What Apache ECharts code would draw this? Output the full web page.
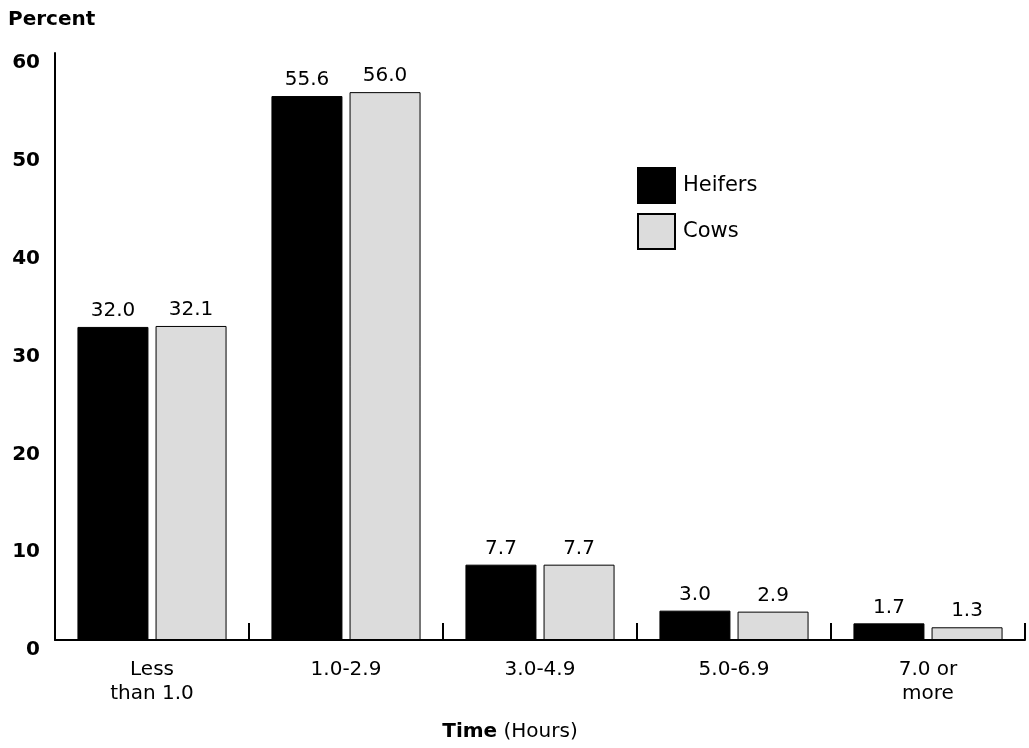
<!DOCTYPE html>
<html>
<head>
<meta charset="utf-8">
<script src="https://cdn.jsdelivr.net/npm/echarts@6/dist/echarts.min.js"></script>
<style>
  html, body { margin: 0; padding: 0; background: #fff; }
  #chart { width: 1029px; height: 748px; }
</style>
</head>
<body>
<div id="chart"></div>
<script>
// Calving duration by time category
const categories = ['Less\nthan 1.0', '1.0-2.9', '3.0-4.9', '5.0-6.9', '7.0 or\nmore'];
const heifers = [32.0, 55.6, 7.7, 3.0, 1.7];
const cows = [32.1, 56.0, 7.7, 2.9, 1.3];
const yTicks = [0, 10, 20, 30, 40, 50, 60];

const FONT = '"DejaVu Sans", "Liberation Sans", Arial, sans-serif';

const chart = echarts.init(document.getElementById('chart'), null, { renderer: 'canvas' });

const labelStyle = {
  show: true,
  position: 'top',
  distance: 6,
  color: '#000',
  fontFamily: FONT,
  fontSize: 20,
  formatter: p => p.value.toFixed(1)
};

chart.setOption({
  animation: false,
  backgroundColor: '#fff',
  title: {
    text: 'Percent',
    left: 3,
    top: 5,
    textStyle: { fontFamily: FONT, fontSize: 20, fontWeight: 'bold', color: '#000' }
  },
  legend: {
    orient: 'vertical',
    left: 632,
    top: 162,
    icon: 'rect',
    itemWidth: 37,
    itemHeight: 35,
    itemGap: 9,
    textStyle: { fontFamily: FONT, fontSize: 21, color: '#000', padding: [0, 0, 0, 3] },
    data: ['Heifers', 'Cows']
  },
  grid: {
    left: 55, right: 4, top: 53, bottom: 108,
    containLabel: false,
    outerBoundsMode: 'none'
  },
  xAxis: {
    type: 'category',
    data: categories,
    boundaryGap: true,
    axisLine: { show: true, lineStyle: { color: '#000', width: 2 } },
    axisTick: {
      show: true, inside: true, interval: 0, length: 17,
      lineStyle: { color: '#000', width: 2 }
    },
    axisLabel: {
      color: '#000', fontFamily: FONT, fontSize: 20, lineHeight: 24, margin: 18
    },
    name: '{b|Time} (Hours)',
    nameLocation: 'middle',
    nameGap: 82,
    nameTextStyle: {
      color: '#000', fontFamily: FONT, fontSize: 20,
      padding: [0, 60, 0, 0],
      rich: { b: { fontFamily: FONT, fontSize: 20, fontWeight: 'bold', color: '#000' } }
    }
  },
  yAxis: {
    type: 'value',
    min: yTicks[0],
    max: yTicks[yTicks.length - 1],
    interval: 10,
    axisLine: { show: true, lineStyle: { color: '#000', width: 2 } },
    axisTick: { show: false },
    splitLine: { show: false },
    axisLabel: {
      color: '#000', fontFamily: FONT, fontSize: 20, fontWeight: 'bold',
      margin: 15, verticalAlign: 'top', lineHeight: 20
    }
  },
  series: [
    {
      name: 'Heifers',
      type: 'bar',
      data: heifers,
      barWidth: 71,
      barGap: '10%',
      itemStyle: { color: '#000', borderColor: '#000', borderWidth: 1 },
      label: labelStyle
    },
    {
      name: 'Cows',
      type: 'bar',
      data: cows,
      barWidth: 71,
      barGap: '10%',
      itemStyle: { color: '#dcdcdc', borderColor: '#000', borderWidth: 1 },
      label: labelStyle
    }
  ]
});
</script>
</body>
</html>
